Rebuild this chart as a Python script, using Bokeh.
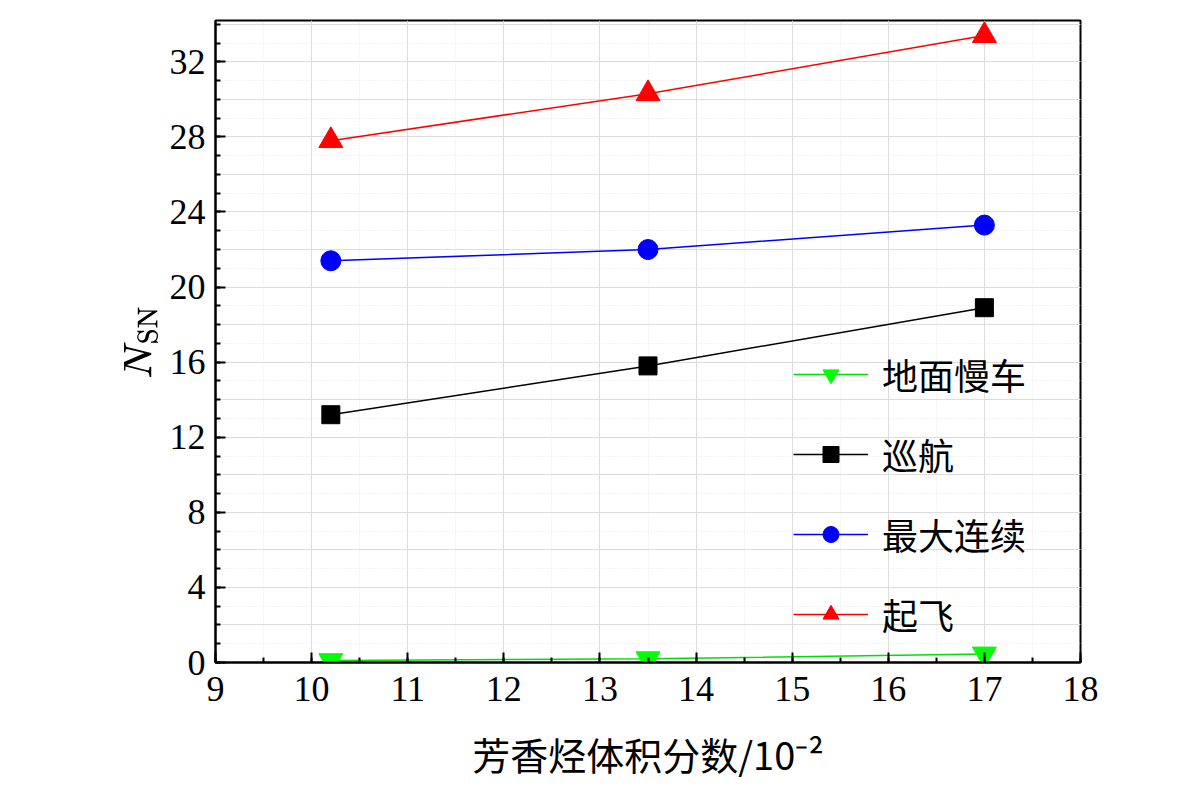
from bokeh.plotting import figure
from bokeh.models import SingleIntervalTicker, Grid, Legend, LegendItem, Range1d
from bokeh.embed import file_html
from bokeh.resources import INLINE

x = [10.2, 13.5, 17.0]
idle = [0.1, 0.2, 0.45]
cruise = [13.2, 15.8, 18.9]
maxc = [21.4, 22.0, 23.3]
takeoff = [27.8, 30.3, 33.4]
names = ["地面慢车", "巡航", "最大连续", "起飞"]

p = figure(width=1165, height=783, output_backend="svg", toolbar_location=None,
           x_range=Range1d(9, 18), y_range=Range1d(0, 34.2),
           min_border_left=215, min_border_right=85, min_border_top=20, min_border_bottom=113)
p.xgrid.visible = False
p.ygrid.visible = False
p.outline_line_color = "black"
p.outline_line_width = 2
p.background_fill_color = "white"

for dim, step in ((0, 1), (1, 2)):
    g = Grid(dimension=dim, ticker=SingleIntervalTicker(interval=step, num_minor_ticks=2),
             grid_line_color="#dddddd", grid_line_width=1,
             minor_grid_line_color="#e6e6e6", minor_grid_line_dash="1 2")
    p.add_layout(g)

xa = p.xaxis[0]
xa.ticker = SingleIntervalTicker(interval=1, num_minor_ticks=2)
ya = p.yaxis[0]
ya.ticker = SingleIntervalTicker(interval=4, num_minor_ticks=4)
for a in (xa, ya):
    a.axis_line_width = 2
    a.major_tick_in = 10
    a.major_tick_out = 0
    a.minor_tick_in = 5
    a.minor_tick_out = 0
    a.major_tick_line_width = 2
    a.minor_tick_line_width = 2
    a.major_label_text_font = "Liberation Serif"
    a.major_label_text_font_size = "36px"
    a.major_label_text_color = "black"
    a.axis_label_text_font_style = "normal"
    a.axis_label_text_color = "black"
xa.major_label_standoff = 14
ya.major_label_standoff = 10
xa.axis_label = "芳香烃体积分数/10⁻²"
xa.axis_label_text_font = "Noto Sans CJK SC"
xa.axis_label_text_font_size = "38px"
xa.axis_label_standoff = 22
ya.axis_label = r"\(N_{\mathrm{SN}}\)"
ya.axis_label_text_font_size = "34px"

r1 = p.line(x, idle, color="#00e000", line_width=1.5)
s1 = p.scatter(x, idle, marker="inverted_triangle", size=24, color="#00ff00")
r2 = p.line(x, cruise, color="black", line_width=1.5)
s2 = p.scatter(x, cruise, marker="square", size=18, color="black")
r3 = p.line(x, maxc, color="blue", line_width=1.5)
s3 = p.scatter(x, maxc, marker="circle", size=20, color="blue")
r4 = p.line(x, takeoff, color="red", line_width=1.5)
s4 = p.scatter(x, takeoff, marker="triangle", size=24, color="red")

leg = Legend(items=[LegendItem(label=names[0], renderers=[r1, s1]),
                    LegendItem(label=names[1], renderers=[r2, s2]),
                    LegendItem(label=names[2], renderers=[r3, s3]),
                    LegendItem(label=names[3], renderers=[r4, s4])],
             location=(578, 22), border_line_color=None, background_fill_alpha=0,
             label_text_font="Noto Sans CJK SC", label_text_font_size="36px",
             label_text_color="black",
             glyph_width=75, glyph_height=40, spacing=28, label_standoff=14)
p.add_layout(leg)

open("out.html", "w").write(file_html(p, INLINE))
